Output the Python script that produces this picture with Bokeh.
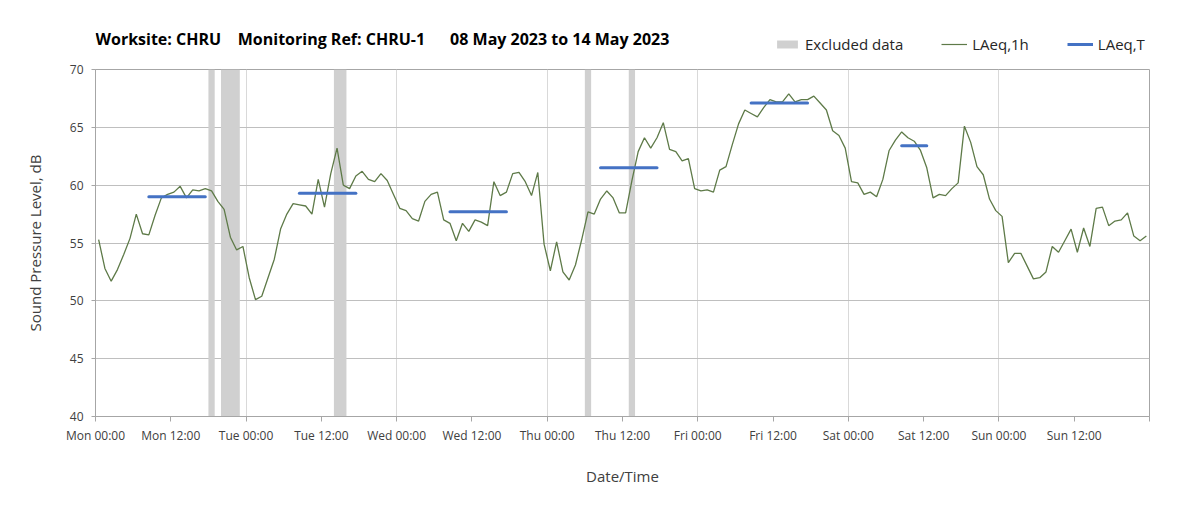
from bokeh.plotting import figure
from bokeh.models import FixedTicker, Legend, LegendItem, Range1d, Label
from bokeh.layouts import column
from bokeh.embed import file_html
from bokeh.resources import INLINE
import numpy as np

# ---------------- data ----------------
title_text = ("Worksite: CHRU\u00a0\u00a0\u00a0\u00a0Monitoring Ref: CHRU-1"
              "\u00a0\u00a0\u00a0\u00a0\u00a0\u00a008 May 2023 to 14 May 2023")

# hourly LAeq,1h values, Mon 08 May 00:00 .. Sun 14 May 23:00
laeq_1h = [
    55.3, 52.8, 51.7, 52.7, 54.0, 55.4, 57.5, 55.8, 55.7, 57.4, 58.9, 59.2,
    59.4, 59.9, 58.9, 59.6, 59.5, 59.7, 59.5, 58.6, 57.9, 55.5, 54.4, 54.7,
    52.0, 50.1, 50.4, 52.0, 53.6, 56.2, 57.5, 58.4, 58.3, 58.2, 57.5, 60.5,
    58.1, 61.0, 63.2, 60.0, 59.7, 60.8, 61.2, 60.5, 60.3, 61.0, 60.4, 59.2,
    58.0, 57.8, 57.1, 56.9, 58.6, 59.2, 59.4, 57.0, 56.7, 55.2, 56.7, 56.0,
    57.0, 56.8, 56.5, 60.3, 59.1, 59.4, 61.0, 61.1, 60.3, 59.1, 61.1, 54.9,
    52.6, 55.1, 52.5, 51.8, 53.1, 55.3, 57.7, 57.5, 58.8, 59.5, 58.9, 57.6,
    57.6, 60.4, 62.9, 64.1, 63.2, 64.1, 65.4, 63.1, 62.9, 62.1, 62.3, 59.7,
    59.5, 59.6, 59.4, 61.3, 61.6, 63.5, 65.3, 66.5, 66.2, 65.9, 66.7, 67.4,
    67.2, 67.2, 67.9, 67.2, 67.4, 67.4, 67.7, 67.1, 66.5, 64.7, 64.3, 63.2,
    60.3, 60.2, 59.2, 59.4, 59.0, 60.5, 63.0, 63.9, 64.6, 64.1, 63.8, 63.0,
    61.5, 58.9, 59.2, 59.1, 59.7, 60.2, 65.1, 63.7, 61.6, 60.9, 58.8, 57.8,
    57.3, 53.3, 54.1, 54.1, 53.0, 51.9, 52.0, 52.5, 54.7, 54.2, 55.2, 56.2,
    54.2, 56.3, 54.7, 58.0, 58.1, 56.5, 56.9, 57.0, 57.6, 55.6, 55.2, 55.6,
]
hour_start = list(range(168))          # hour index from Mon 00:00

# LAeq,T periods (first / last hour index) and value
laeqT_first_hour = [8, 32, 56, 80, 104, 128]
laeqT_last_hour = [17, 41, 65, 89, 113, 132]
laeqT_value = [59.0, 59.3, 57.7, 61.5, 67.1, 63.4]

# excluded data periods (hours from Mon 00:00)
excl_start = [18, 20, 38, 78, 85]
excl_end = [19, 23, 40, 79, 86]

days = ["Mon", "Tue", "Wed", "Thu", "Fri", "Sat", "Sun"]
tick_hours = list(range(0, 169, 12))
tick_labels = [f"{d} {t}" for d in days for t in ("00:00", "12:00")] + [""]
y_ticks = [40, 45, 50, 55, 60, 65, 70]

# ---------------- styles ----------------
FONT = "Open Sans"
GREEN = "#5E7A48"
BLUE = "#4472C4"
EXCL = "#D0D0D0"
W = 1187
HEAD_H = 55

# ---------------- header (title + legend) ----------------
head = figure(width=W, height=HEAD_H, x_range=Range1d(0, 1), y_range=Range1d(0, 1),
              output_backend="svg", toolbar_location=None, title=None,
              x_axis_type=None, y_axis_type=None, min_border=0)
head.grid.visible = False
head.outline_line_color = None
head.background_fill_color = "white"
head.border_fill_color = "white"

head.add_layout(Label(x=0, y=HEAD_H - 38, x_units="screen", y_units="screen",
                      text=title_text, text_font=FONT, text_font_style="bold",
                      text_font_size="16px", text_color="#000000",
                      text_baseline="middle", text_align="left"))

# legend keys only (placed outside the visible header range)
h_excl = head.quad(left=[-3], right=[-2], bottom=[-3], top=[-2], fill_color=EXCL, line_color=None)
h_l1 = head.line([-3, -2], [-3, -3], line_color=GREEN, line_width=1.2)
h_lt = head.line([-3, -2], [-3, -3], line_color=BLUE, line_width=3)

legend = Legend(items=[LegendItem(label="Excluded data", renderers=[h_excl]),
                       LegendItem(label="LAeq,1h", renderers=[h_l1]),
                       LegendItem(label="LAeq,T", renderers=[h_lt])],
                orientation="horizontal", location=(679, HEAD_H - 54))
legend.padding = 0
legend.margin = 0
legend.spacing = 38
legend.label_standoff = 5
legend.glyph_width = 26
legend.glyph_height = 10
legend.label_text_font = FONT
legend.label_text_font_size = "15px"
legend.label_text_color = "#262626"
legend.background_fill_alpha = 0
legend.border_line_alpha = 0
legend.label_height = 20
head.add_layout(legend)

# ---------------- main plot ----------------
p = figure(width=W, height=494 - HEAD_H, x_range=Range1d(0, 168), y_range=Range1d(40, 70),
           output_backend="svg", toolbar_location=None, title=None,
           min_border_left=95, min_border_right=38, min_border_top=69 - HEAD_H,
           min_border_bottom=78)

p.background_fill_color = "white"
p.border_fill_color = "white"
p.outline_line_color = "#A6A6A6"

# excluded periods
p.quad(left=excl_start, right=excl_end, bottom=p.y_range.start, top=p.y_range.end,
       fill_color=EXCL, line_color=None)

# hourly line
x_mid = np.array(hour_start) + 0.5
p.line(x_mid, laeq_1h, line_color=GREEN, line_width=1.3)

# LAeq,T
p.segment(x0=np.array(laeqT_first_hour) + 0.5, x1=np.array(laeqT_last_hour) + 0.5,
          y0=laeqT_value, y1=laeqT_value, line_color=BLUE, line_width=3,
          line_cap="round")

# axes
xa = p.xaxis[0]
xa.ticker = FixedTicker(ticks=tick_hours)
xa.major_label_overrides = {h: lab for h, lab in zip(tick_hours, tick_labels)}
xa.minor_tick_line_color = None
xa.major_tick_out = 5
xa.major_tick_in = 0
xa.axis_line_color = "#A6A6A6"
xa.major_tick_line_color = "#A6A6A6"
xa.major_label_text_font = FONT
xa.major_label_text_font_size = "12px"
xa.major_label_text_color = "#404040"
xa.major_label_standoff = 5
xa.axis_label = "Date/Time"
xa.axis_label_text_font = FONT
xa.axis_label_text_font_size = "15px"
xa.axis_label_text_font_style = "normal"
xa.axis_label_text_color = "#404040"
xa.axis_label_standoff = 19

ya = p.yaxis[0]
ya.ticker = FixedTicker(ticks=y_ticks)
ya.minor_tick_line_color = None
ya.major_tick_out = 4
ya.major_tick_in = 0
ya.axis_line_color = "#A6A6A6"
ya.major_tick_line_color = "#A6A6A6"
ya.major_label_text_font = FONT
ya.major_label_text_font_size = "12px"
ya.major_label_text_color = "#404040"
ya.major_label_standoff = 8
ya.axis_label = "Sound Pressure Level, dB"
ya.axis_label_text_font = FONT
ya.axis_label_text_font_size = "15px"
ya.axis_label_text_font_style = "normal"
ya.axis_label_text_color = "#404040"
ya.axis_label_standoff = 22

# grids
p.xgrid.ticker = FixedTicker(ticks=[24, 48, 72, 96, 120, 144])
p.xgrid.grid_line_color = "#D9D9D9"
p.ygrid.ticker = FixedTicker(ticks=[45, 50, 55, 60, 65])
p.ygrid.grid_line_color = "#BFBFBF"

open("out.html", "w").write(file_html(column(head, p), INLINE))
